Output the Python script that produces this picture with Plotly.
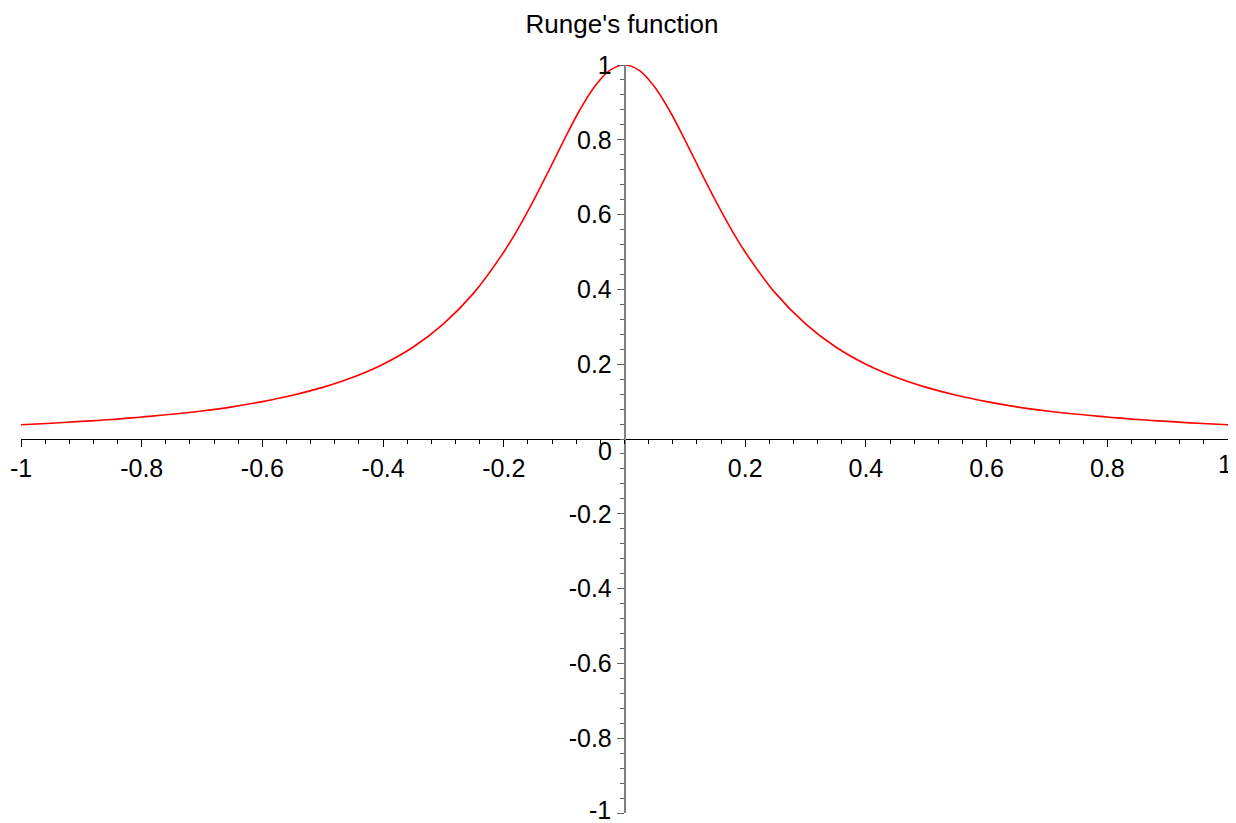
import plotly.graph_objects as go

# Values (Runge's function samples)
x_vals = [-1.0, -0.95, -0.9, -0.85, -0.8, -0.75, -0.7, -0.65, -0.6, -0.55, -0.5, -0.45, -0.4, -0.35,
          -0.3, -0.25, -0.2, -0.175, -0.15, -0.125, -0.1, -0.075, -0.05, -0.025, 0.0,
          0.025, 0.05, 0.075, 0.1, 0.125, 0.15, 0.175, 0.2, 0.25, 0.3, 0.35, 0.4, 0.45, 0.5,
          0.55, 0.6, 0.65, 0.7, 0.75, 0.8, 0.85, 0.9, 0.95, 1.0]
y_vals = [0.038, 0.042, 0.047, 0.052, 0.059, 0.066, 0.075, 0.086, 0.100, 0.117, 0.138, 0.165, 0.200, 0.246,
          0.308, 0.390, 0.500, 0.566, 0.640, 0.719, 0.800, 0.877, 0.941, 0.985, 1.000,
          0.985, 0.941, 0.877, 0.800, 0.719, 0.640, 0.566, 0.500, 0.390, 0.308, 0.246, 0.200, 0.165, 0.138,
          0.117, 0.100, 0.086, 0.075, 0.066, 0.059, 0.052, 0.047, 0.042, 0.038]

tick_vals = [-1, -0.8, -0.6, -0.4, -0.2, 0.2, 0.4, 0.6, 0.8, 1]
x_tick_text = ["-1", "-0.8", "-0.6", "-0.4", "-0.2", "0.2", "0.4", "0.6", "0.8", ""]
y_tick_text = ["", "-0.8", "-0.6", "-0.4", "-0.2", "0.2", "0.4", "0.6", "0.8", "1"]
title_text = "Runge's function"

FONT = "Liberation Sans, Arial, sans-serif"
FS = 25

fig = go.Figure()
fig.add_trace(go.Scatter(x=x_vals, y=y_vals, mode="lines",
                         line=dict(color="#ff0000", width=1.6, shape="spline"),
                         hoverinfo="skip", showlegend=False, cliponaxis=False))

# page body has an 8px margin: figure is sized/offset to compensate
fig.update_layout(
    width=1228, height=815,
    margin=dict(l=13, r=8, t=57, b=10, autoexpand=False),
    paper_bgcolor="white", plot_bgcolor="white",
    title=dict(text=title_text, x=0.5, xanchor="center", y=0.981, yanchor="middle",
               font=dict(family=FONT, size=26, color="black")),
    font=dict(family=FONT, size=FS, color="black"),
    xaxis=dict(range=[-1, 1], anchor="free", position=0.5, automargin=False,
               showgrid=False, zeroline=False, showline=True, linecolor="black", linewidth=1.2,
               tickmode="array", tickvals=tick_vals, ticktext=x_tick_text,
               ticks="outside", ticklen=7, tickcolor="black", tickwidth=1,
               minor=dict(tickmode="linear", tick0=0, dtick=0.04, ticks="outside", ticklen=4,
                          tickcolor="black", showgrid=False),
               tickfont=dict(family=FONT, size=FS, color="black")),
    yaxis=dict(range=[-1, 1], anchor="free", position=0.5, automargin=False,
               showgrid=False, zeroline=False, showline=True, linecolor="#808080", linewidth=1.5,
               tickmode="array", tickvals=tick_vals, ticktext=y_tick_text,
               ticks="outside", ticklen=7, tickcolor="#606060", tickwidth=1,
               minor=dict(tickmode="linear", tick0=0, dtick=0.04, ticks="outside", ticklen=4,
                          tickcolor="#606060", showgrid=False),
               tickfont=dict(family=FONT, size=FS, color="black")),
)

# labels at the ends / origin that Plotly would clip or drop
fig.add_annotation(x=-0.0315, y=-0.033, xref="x", yref="y", text="0", showarrow=False,
                   font=dict(family=FONT, size=FS, color="black"))
fig.add_annotation(x=0, y=-1, xref="x", yref="y", text="-1", showarrow=False,
                   xanchor="right", yanchor="middle", xshift=-12, yshift=3,
                   font=dict(family=FONT, size=FS, color="black"))
fig.add_annotation(x=1, y=0, xref="x", yref="y", text="1", showarrow=False,
                   xanchor="right", yanchor="top", xshift=6, yshift=-9,
                   font=dict(family=FONT, size=FS, color="black"))

fig.write_html("out.html")
